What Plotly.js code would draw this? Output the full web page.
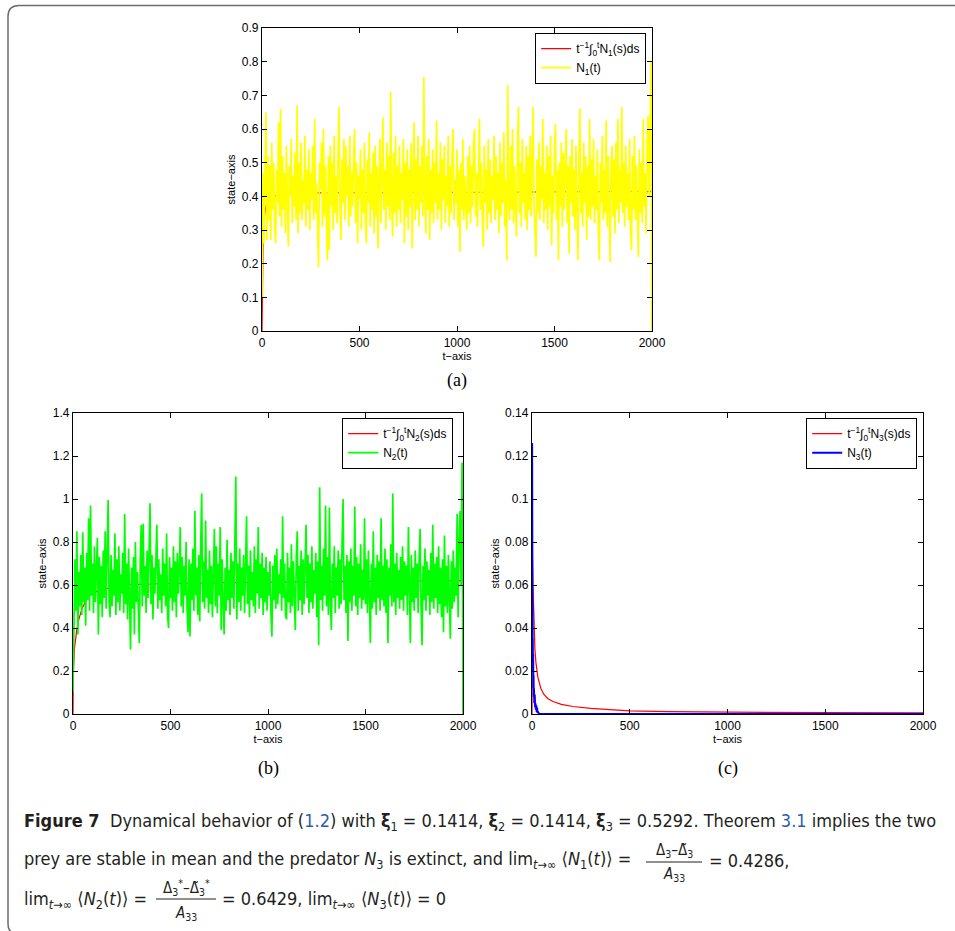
<!DOCTYPE html>
<html>
<head>
<meta charset="utf-8">
<script src="https://cdn.plot.ly/plotly-3.0.1.min.js"></script>
<style>html,body{margin:0;padding:0;background:#fff;}#chart{width:955px;height:931px;}</style>
</head>
<body>
<div id="chart"></div>
<script>
// ---- DATA ----
// N1(t), sampled every 5 time units from t=0 to t=2000
const N1 = [
0.10,0.47,0.26,0.55,0.65,0.27,0.52,0.33,0.49,0.27,0.56,0.36,0.50,0.31,0.26,0.48,0.38,0.62,0.34,0.66,
0.31,0.52,0.36,0.47,0.29,0.55,0.34,0.25,0.49,0.40,0.57,0.32,0.46,0.37,0.53,0.33,0.67,0.29,0.50,0.35,
0.56,0.33,0.45,0.38,0.58,0.31,0.48,0.36,0.54,0.30,0.47,0.39,0.55,0.33,0.63,0.35,0.44,0.28,0.19,0.50,
0.42,0.56,0.31,0.60,0.34,0.49,0.28,0.21,0.52,0.24,0.55,0.37,0.50,0.30,0.58,0.35,0.46,0.32,0.53,0.665,
0.36,0.27,0.51,0.38,0.57,0.33,0.55,0.40,0.49,0.31,0.58,0.34,0.47,0.37,0.52,0.60,0.32,0.50,0.26,0.46,
0.39,0.54,0.30,0.48,0.35,0.56,0.33,0.26,0.51,0.38,0.59,0.31,0.47,0.36,0.53,0.29,0.55,0.34,0.49,0.245,
0.44,0.57,0.32,0.50,0.635,0.36,0.48,0.30,0.56,0.37,0.52,0.33,0.71,0.38,0.28,0.53,0.35,0.58,0.31,0.49,
0.36,0.55,0.32,0.47,0.39,0.57,0.26,0.50,0.34,0.54,0.30,0.48,0.37,0.56,0.245,0.45,0.62,0.33,0.51,0.36,
0.58,0.31,0.49,0.38,0.55,0.34,0.755,0.40,0.29,0.52,0.36,0.57,0.27,0.48,0.35,0.54,0.32,0.50,0.38,0.625,
0.33,0.47,0.36,0.56,0.30,0.51,0.39,0.55,0.32,0.46,0.37,0.58,0.31,0.49,0.35,0.53,0.60,0.33,0.45,0.38,
0.54,0.31,0.48,0.235,0.50,0.36,0.57,0.33,0.46,0.38,0.30,0.52,0.35,0.55,0.32,0.49,0.37,0.56,0.60,0.34,
0.47,0.31,0.53,0.63,0.36,0.50,0.33,0.25,0.55,0.38,0.48,0.30,0.57,0.35,0.51,0.32,0.46,0.39,0.58,0.33,
0.52,0.36,0.47,0.29,0.56,0.34,0.50,0.38,0.59,0.31,0.45,0.21,0.73,0.40,0.33,0.55,0.36,0.60,0.32,0.49,
0.37,0.28,0.54,0.665,0.35,0.50,0.31,0.57,0.38,0.47,0.33,0.55,0.30,0.52,0.36,0.58,0.34,0.48,0.665,0.37,
0.31,0.22,0.51,0.35,0.56,0.33,0.49,0.39,0.63,0.32,0.47,0.36,0.55,0.30,0.52,0.37,0.58,0.255,0.46,0.35,
0.54,0.615,0.33,0.48,0.21,0.50,0.37,0.56,0.31,0.53,0.36,0.47,0.60,0.32,0.49,0.23,0.52,0.38,0.57,0.34,
0.48,0.30,0.55,0.36,0.21,0.50,0.66,0.35,0.47,0.31,0.56,0.38,0.52,0.27,0.49,0.34,0.63,0.33,0.51,0.37,
0.57,0.32,0.46,0.36,0.54,0.30,0.21,0.50,0.38,0.58,0.33,0.48,0.35,0.625,0.31,0.52,0.37,0.205,0.49,0.55,
0.34,0.51,0.29,0.56,0.36,0.63,0.32,0.48,0.38,0.665,0.35,0.50,0.31,0.55,0.37,0.47,0.33,0.57,0.30,0.24,
0.52,0.36,0.58,0.33,0.49,0.38,0.22,0.54,0.35,0.50,0.32,0.63,0.37,0.47,0.29,0.56,0.64,0.40,0.62,0.80,
0
];
// time-average of N1
const avg1_t = [0, 1, 3, 6, 12, 20, 30, 50, 100, 300, 1000, 1500, 1999, 2000];
const avg1_y = [0, 0.10, 0.20, 0.28, 0.34, 0.37, 0.39, 0.40, 0.405, 0.41, 0.412, 0.414, 0.415, 0];

// N2(t), sampled every 5 time units from t=0 to t=2000
const N2 = [
0.10,0.55,0.72,0.48,0.85,0.37,0.66,0.50,0.74,0.46,0.845,0.52,0.68,0.41,0.75,0.53,0.91,0.48,0.97,0.55,
0.70,0.47,0.78,0.52,0.66,0.82,0.37,0.73,0.51,0.69,0.45,0.76,0.54,0.85,0.49,0.71,0.995,0.53,0.45,0.74,
0.50,0.67,0.55,0.84,0.46,0.72,0.52,0.78,0.48,0.65,0.56,0.75,0.47,0.93,0.51,0.70,0.44,0.77,0.53,0.30,
0.68,0.49,0.73,0.37,0.80,0.52,0.66,0.45,0.33,0.72,0.88,0.50,0.885,0.55,0.69,0.47,0.76,0.54,0.71,0.98,
0.51,0.74,0.44,0.68,0.56,0.79,0.88,0.49,0.72,0.53,0.65,0.47,0.77,0.55,0.70,0.50,0.84,0.46,0.40,0.73,
0.54,0.68,0.48,0.78,0.52,0.71,0.45,0.75,0.56,0.66,0.87,0.50,0.73,0.47,0.69,0.55,0.80,0.49,0.38,0.72,
0.36,0.70,0.53,0.77,0.48,0.945,0.55,0.68,0.46,0.74,0.43,0.79,1.025,0.52,0.71,0.49,0.90,0.54,0.67,0.47,
0.76,0.51,0.69,0.45,0.73,0.86,0.50,0.78,0.47,0.70,0.55,0.87,0.39,0.72,0.52,0.37,0.68,0.48,0.81,0.53,
0.67,0.46,0.75,0.54,0.71,0.49,0.79,1.105,0.44,0.70,0.52,0.77,0.48,0.68,0.55,0.74,0.47,0.80,0.92,0.51,
0.69,0.45,0.76,0.53,0.66,0.50,0.78,0.47,0.72,0.56,0.87,0.49,0.70,0.54,0.75,0.46,0.68,0.52,0.73,0.48,
0.66,0.55,0.71,0.47,0.36,0.69,0.53,0.74,0.49,0.77,0.51,0.65,0.56,0.72,0.48,0.92,0.54,0.70,0.46,0.44,
0.75,0.52,0.68,0.47,0.79,0.50,0.71,0.55,0.39,0.73,0.85,0.48,0.69,0.53,0.76,0.46,0.72,0.51,0.66,0.88,
0.54,0.74,0.47,0.70,0.52,0.78,0.49,0.67,0.56,0.75,0.45,0.71,0.32,1.055,0.53,0.69,0.48,0.77,0.55,0.97,
0.50,0.73,0.46,0.96,0.52,0.39,0.70,0.54,0.78,0.47,0.68,0.55,0.76,0.49,0.72,0.51,0.80,1.0,0.53,0.69,
0.47,0.74,0.34,0.71,0.52,0.77,0.48,0.69,0.55,0.965,0.50,0.73,0.46,0.70,0.54,0.79,0.49,0.67,0.53,0.91,
0.51,0.72,0.47,0.76,0.55,0.33,0.70,0.49,0.85,0.52,0.68,0.46,0.74,0.54,0.71,0.48,0.91,0.53,0.69,0.50,
0.77,0.47,0.72,0.33,0.68,0.55,0.79,0.50,1.025,0.52,0.70,0.46,0.75,0.54,0.67,0.49,0.73,0.53,0.78,0.48,
0.71,0.55,0.69,0.46,0.87,0.51,0.33,0.74,0.52,0.68,0.48,0.76,0.54,0.70,0.47,0.72,0.86,0.50,0.32,0.69,
0.53,0.77,0.48,0.71,0.55,0.67,0.46,0.75,0.52,0.88,0.49,0.70,0.54,0.73,0.47,0.78,0.51,0.68,0.45,0.72,
0.38,0.83,0.50,0.69,0.47,0.74,0.53,0.35,0.71,0.49,0.76,0.52,0.68,0.55,0.93,0.45,0.81,0.945,0.60,1.17,
0
];
const avg2_t = [0, 0.5, 2, 7, 19, 30, 46, 79, 130, 250, 500, 1000, 1500, 1999, 2000];
const avg2_y = [0, 0.10, 0.20, 0.30, 0.39, 0.44, 0.49, 0.55, 0.575, 0.60, 0.608, 0.613, 0.618, 0.62, 0];

// N3(t)
const N3_t = [0,0.5,1,1.5,2,2.5,3,3.5,4,5,6,7,8,9,10,12,14,16,18,20,22,24,26,28,30,35,40,2000];
const N3_y = [0.09,0.126,0.10,0.06,0.085,0.04,0.05,0.025,0.035,0.02,0.028,0.012,0.018,0.008,0.012,0.005,0.009,0.003,0.005,0.002,0.004,0.001,0.003,0.0005,0.001,0.0002,0.0001,0];
const avg3_t = [0, 0.5, 1, 2, 3, 5, 8, 10, 15, 20, 30, 45, 60, 80, 107, 150, 210, 300, 383, 500, 700, 1000, 1500, 1999, 2000];
const avg3_y = [0, 0.01, 0.06, 0.075, 0.07, 0.06, 0.05, 0.045, 0.03, 0.024, 0.017, 0.012, 0.0092, 0.0072, 0.0058, 0.0045, 0.0035, 0.0026, 0.002, 0.0015, 0.0011, 0.0008, 0.0006, 0.0005, 0];

const legendAvg = ["t<sup>−1</sup>∫<sub>0</sub><sup>t</sup>N<sub>1</sub>(s)ds", "t<sup>−1</sup>∫<sub>0</sub><sup>t</sup>N<sub>2</sub>(s)ds", "t<sup>−1</sup>∫<sub>0</sub><sup>t</sup>N<sub>3</sub>(s)ds"];
const legendN = ["N<sub>1</sub>(t)", "N<sub>2</sub>(t)", "N<sub>3</sub>(t)"];
const yTickVals = [[0,0.1,0.2,0.3,0.4,0.5,0.6,0.7,0.8,0.9],[0,0.2,0.4,0.6,0.8,1,1.2,1.4],[0,0.02,0.04,0.06,0.08,0.1,0.12,0.14]];
const xTickVals = [0,500,1000,1500,2000];

// ---- LAYOUT ----
const W = 955, H = 931;
const px = x => x / W, py = y => 1 - y / H;
const tickFont = {family: "Liberation Sans, Arial, sans-serif", size: 12, color: "#000"};
const titleFont = {family: "Liberation Sans, Arial, sans-serif", size: 11, color: "#000"};

function xa(d0, d1, anchor) {
  return {domain: [px(d0), px(d1)], anchor: anchor, range: [0, 2000], tickvals: xTickVals,
    ticks: "inside", ticklen: 5, tickcolor: "#000", mirror: "allticks", showline: true, linecolor: "#000", linewidth: 1.2,
    showgrid: false, zeroline: false, tickfont: tickFont,
    title: {text: "t−axis", font: titleFont, standoff: 2}};
}
function ya(d0, d1, anchor, rng, tv) {
  return {domain: [py(d1), py(d0)], anchor: anchor, range: rng, tickvals: tv,
    ticks: "inside", ticklen: 5, tickcolor: "#000", mirror: "allticks", showline: true, linecolor: "#000", linewidth: 1.2,
    showgrid: false, zeroline: false, tickfont: tickFont,
    title: {text: "state−axis", font: titleFont, standoff: 3}};
}

const traces = [
  {x: avg1_t, y: avg1_y, type: "scatter", mode: "lines", line: {color: "#ff0000", width: 1.2}, name: legendAvg[0], xaxis: "x", yaxis: "y", legend: "legend"},
  {y: N1, x0: 0, dx: 5, type: "scatter", mode: "lines", line: {color: "#ffff00", width: 1.7}, name: legendN[0], xaxis: "x", yaxis: "y", legend: "legend"},
  {x: avg2_t, y: avg2_y, type: "scatter", mode: "lines", line: {color: "#ff0000", width: 1.2}, name: legendAvg[1], xaxis: "x2", yaxis: "y2", legend: "legend2"},
  {y: N2, x0: 0, dx: 5, type: "scatter", mode: "lines", line: {color: "#00ff00", width: 1.7}, name: legendN[1], xaxis: "x2", yaxis: "y2", legend: "legend2"},
  {x: avg3_t, y: avg3_y, type: "scatter", mode: "lines", line: {color: "#ff0000", width: 1.2}, name: legendAvg[2], xaxis: "x3", yaxis: "y3", legend: "legend3"},
  {x: N3_t, y: N3_y, type: "scatter", mode: "lines", line: {color: "#0000ff", width: 2}, name: legendN[2], xaxis: "x3", yaxis: "y3", legend: "legend3"}
];

const legFont = {family: "Liberation Sans, Arial, sans-serif", size: 12, color: "#000"};
function leg(x, y) {
  return {x: px(x), y: py(y), xanchor: "right", yanchor: "top", bgcolor: "#fff", bordercolor: "#000", borderwidth: 1.2,
    font: legFont, tracegroupgap: 0, itemwidth: 30};
}

const capFont = {family: "DejaVu Sans Condensed, Liberation Sans Narrow, Roboto Condensed, Open Sans, sans-serif", size: 18, color: "#231f20"};
const fracFont = Object.assign({}, capFont, {size: 15});
const blue = "#2a5db0";
function ann(text, x, y, xanchor, font) {
  return {text: text, x: px(x), y: py(y), xref: "paper", yref: "paper", xanchor: xanchor || "left", yanchor: "middle", showarrow: false, font: font || capFont};
}
const labFont = {family: "Liberation Serif, DejaVu Serif, serif", size: 18, color: "#000"};
const NB = "\u00a0";

const annotations = [
  ann("(a)", 457, 380, "center", labFont),
  ann("(b)", 268, 768, "center", labFont),
  ann("(c)", 728, 768, "center", labFont),
  ann("<b>Figure 7</b>  Dynamical behavior of (<span style='color:" + blue + "'>1.2</span>) with <b>ξ</b><sub>1</sub> = 0.1414, <b>ξ</b><sub>2</sub> = 0.1414, <b>ξ</b><sub>3</sub> = 0.5292. Theorem <span style='color:" + blue + "'>3.1</span> implies the two", 22, 822),
  ann("prey are stable in mean and the predator <i>N</i><sub>3</sub> is extinct, and lim<sub><i>t</i>→∞</sub>" + NB + "⟨<i>N</i><sub>1</sub>(<i>t</i>)⟩ =", 22, 860),
  ann("Δ<sub>3</sub>–Δ̃<sub>3</sub>", 674, 850, "center", fracFont),
  ann("<i>A</i><sub>33</sub>", 674, 874, "center", fracFont),
  ann("= 0.4286,", 707, 860),
  ann("lim<sub><i>t</i>→∞</sub>" + NB + "⟨<i>N</i><sub>2</sub>(<i>t</i>)⟩ =", 22, 900),
  ann("Δ<sub>3</sub><sup>*</sup>–Δ̃<sub>3</sub><sup>*</sup>", 186, 887, "center", fracFont),
  ann("<i>A</i><sub>33</sub>", 186, 913, "center", fracFont),
  ann("= 0.6429, lim<sub><i>t</i>→∞</sub>" + NB + "⟨<i>N</i><sub>3</sub>(<i>t</i>)⟩ = 0", 220, 900)
];

const shapes = [
  {type: "line", xref: "paper", yref: "paper", x0: px(646), x1: px(702), y0: py(862), y1: py(862), line: {color: "#231f20", width: 1}},
  {type: "line", xref: "paper", yref: "paper", x0: px(156), x1: px(216), y0: py(899), y1: py(899), line: {color: "#231f20", width: 1}},
  {type: "path", xref: "paper", yref: "paper",
   path: "M " + px(960) + "," + py(5.5) + " L " + px(19) + "," + py(5.5) + " Q " + px(8) + "," + py(5.5) + " " + px(8) + "," + py(16.5) +
         " L " + px(8) + "," + py(924) + " Q " + px(8) + "," + py(934) + " " + px(18) + "," + py(934),
   line: {color: "#6e6e6e", width: 1.5}}
];

const layout = {
  width: W, height: H, margin: {l: 0, r: 0, t: 0, b: 0}, paper_bgcolor: "#fff", plot_bgcolor: "#fff",
  showlegend: true,
  xaxis: xa(262, 652, "y"), yaxis: ya(28, 331, "x", [0, 0.9], yTickVals[0]),
  xaxis2: xa(73, 463, "y2"), yaxis2: ya(413, 714, "x2", [0, 1.4], yTickVals[1]),
  xaxis3: xa(532, 923, "y3"), yaxis3: ya(413, 714, "x3", [0, 0.14], yTickVals[2]),
  legend: leg(646, 33), legend2: leg(453, 418), legend3: leg(917, 418),
  annotations: annotations, shapes: shapes
};

Plotly.newPlot("chart", traces, layout, {staticPlot: true});
</script>
</body>
</html>
